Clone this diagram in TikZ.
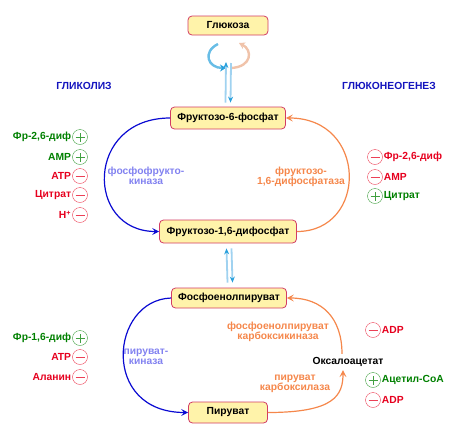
\documentclass[tikz,border=0pt]{standalone}
\usepackage{fontspec}
\setmainfont{Liberation Sans}
\usetikzlibrary{arrows.meta}
\definecolor{BoxFill}{RGB}{255,243,170}
\definecolor{BoxDraw}{RGB}{210,60,100}
\definecolor{GlyBlue}{RGB}{10,10,210}
\definecolor{GlyLabel}{RGB}{130,130,240}
\definecolor{GngOrange}{RGB}{245,135,75}
\definecolor{RegGreen}{RGB}{0,128,0}
\definecolor{RegRed}{RGB}{230,0,30}
\definecolor{HeadBlue}{RGB}{20,20,190}
\definecolor{LinkBlue}{RGB}{160,210,240}
\definecolor{TipBlue}{RGB}{40,160,220}
\definecolor{FadeOrange}{RGB}{240,195,170}

\begin{document}
\begin{tikzpicture}[x=1pt, y=-1pt,
            font=\fontsize{10.3}{10.5}\selectfont\bfseries,
            met/.style={rectangle, rounded corners=4pt, draw=BoxDraw, fill=BoxFill,
                        line width=0.8pt, minimum height=20pt, align=center},
            enz/.style={align=center},
            gly/.style={draw=GlyBlue, line width=1.2pt,
                        -{Stealth[length=7pt, width=7pt, inset=3pt]}},
            gng/.style={draw=GngOrange, line width=1.2pt,
                        -{Stealth[length=7pt, width=7pt, inset=3pt]}},
            link/.style={draw=LinkBlue, line width=1.8pt,
                         -{Stealth[length=6pt, width=5pt, color=TipBlue]}},
            act/.style={circle, draw=RegGreen!75, minimum size=15pt, inner sep=0pt,
                        path picture={\draw[RegGreen!75, line width=0.6pt]
                          ([xshift=-4.5pt]path picture bounding box.center) -- ([xshift=4.5pt]path picture bounding box.center)
                          ([yshift=-4.5pt]path picture bounding box.center) -- ([yshift=4.5pt]path picture bounding box.center);}},
            inh/.style={circle, draw=RegRed!75, minimum size=15pt, inner sep=0pt,
                        path picture={\draw[RegRed!75, line width=0.6pt]
                          ([xshift=-4.5pt]path picture bounding box.center) -- ([xshift=4.5pt]path picture bounding box.center);}}
          ]
          \useasboundingbox (0,0) rectangle (456,432);
          % Metabolites
          \node[met, minimum width=80pt, minimum height=19pt] (glc) at (228,25.5) {Глюкоза};
          \node[met, minimum width=115pt, minimum height=22pt] (f6p) at (228,118) {Фруктозо-6-фосфат};
          \node[met, minimum width=137pt, minimum height=23pt] (fbp) at (228,231.5) {Фруктозо-1,6-дифосфат};
          \node[met, minimum width=115pt] (pep) at (229,298) {Фосфоенолпируват};
          \node[met, minimum width=79pt, minimum height=21pt] (pyr) at (228,412.5) {Пируват};
          \node (oaa) at (348,362) {Оксалоацетат};
          % Headings
          \node[text=HeadBlue] (glyhead) at (84,86) {ГЛИКОЛИЗ};
          \node[text=HeadBlue] (gnghead) at (389,86) {ГЛЮКОНЕОГЕНЕЗ};
          % Glucose cycle and links
          \coordinate (cycl) at (218,44);
          \coordinate (cycr) at (239,43);
          \coordinate (top1) at (226,62);
          \coordinate (top2) at (231,63);
          \draw[draw=TipBlue!70, line width=2.4pt, -{Stealth[length=6pt, width=7pt, color=TipBlue]}]
            (cycl) .. controls (202,52) and (208,68) .. (top1 |- 0,68);
          \draw[draw=FadeOrange, line width=2.4pt, -{Stealth[length=6pt, width=7pt]}]
            (top2 |- 0,68) .. controls (252,67) and (253,50) .. (cycr);
          \draw[link] ([xshift=-2.5pt, yshift=4pt]f6p.north) -- (top1);
          \draw[link] (top2) -- ([xshift=2.5pt, yshift=4pt]f6p.north);
          \draw[link] ([xshift=-1.5pt, yshift=5pt]pep.north) -- ([xshift=-1.5pt, yshift=-5pt]fbp.south);
          \draw[link] ([xshift=3.5pt, yshift=-5pt]fbp.south) -- ([xshift=3.5pt, yshift=5pt]pep.north);
          % Upper cycle
          \draw[gly] (f6p.west) .. controls (85,118) and (85,231.5) .. (fbp.west);
          \draw[gng] (fbp.east) .. controls (368,231.5) and (368,118) .. (f6p.east);
          \node[enz, text=GlyLabel] (pfk) at (146,176) {фосфофрукто-\\киназа};
          \node[enz, text=GngOrange] (fbpase) at (301,177) {фруктозо-\\1,6-дифосфатаза};
          % Lower cycle
          \draw[gly] (pep.west) .. controls (110,300) and (100,412.5) .. (pyr.west);
          \draw[gng] (pyr.east) .. controls (335,412.5) and (343,395) .. (oaa.south -| 343,0);
          \draw[gng] (oaa.north -| 342,0) .. controls (342,318) and (322,298) .. (pep.east);
          \node[enz, text=GlyLabel] (pk) at (146,357) {пируват-\\киназа};
          \node[enz, text=GngOrange] (pepck) at (278,332) {фосфоенолпируват\\карбоксикиназа};
          \node[enz, text=GngOrange] (pc) at (295,384) {пируват\\карбоксилаза};
          % Regulators of phosphofructokinase
          \foreach \txt/\y/\sgn/\col [count=\i] in {{Фр-2,6-диф}/137/act/RegGreen, AMP/157/act/RegGreen,
              ATP/176/inh/RegRed, Цитрат/195/inh/RegRed, H\textsuperscript{+}/215/inh/RegRed} {
            \node[\sgn] (pfkr\i) at (80,\y) {};
            \node[anchor=east, text=\col, inner sep=1pt] (pfkt\i) at (pfkr\i.west) {\txt};
          }
          % Regulators of fructose-1,6-bisphosphatase
          \foreach \txt/\y/\sgn/\col [count=\i] in {{Фр-2,6-диф}/157/inh/RegRed, AMP/177/inh/RegRed,
              Цитрат/196/act/RegGreen} {
            \node[\sgn] (fbpr\i) at (375,\y) {};
            \node[anchor=west, text=\col, inner sep=1pt] (fbpt\i) at (fbpr\i.east) {\txt};
          }
          % Regulators of pyruvate kinase
          \foreach \txt/\y/\sgn/\col [count=\i] in {{Фр-1,6-диф}/338/act/RegGreen, ATP/357/inh/RegRed,
              Аланин/377/inh/RegRed} {
            \node[\sgn] (pkr\i) at (80,\y) {};
            \node[anchor=east, text=\col, inner sep=1pt] (pkt\i) at (pkr\i.west) {\txt};
          }
          % Regulators of PEP carboxykinase and pyruvate carboxylase
          \foreach \txt/\y/\sgn/\col [count=\i] in {ADP/330/inh/RegRed, Ацетил-СоА/380/act/RegGreen,
              ADP/400/inh/RegRed} {
            \node[\sgn] (pcr\i) at (373,\y) {};
            \node[anchor=west, text=\col, inner sep=1pt] (pct\i) at (pcr\i.east) {\txt};
          }
        \end{tikzpicture}
\end{document}
